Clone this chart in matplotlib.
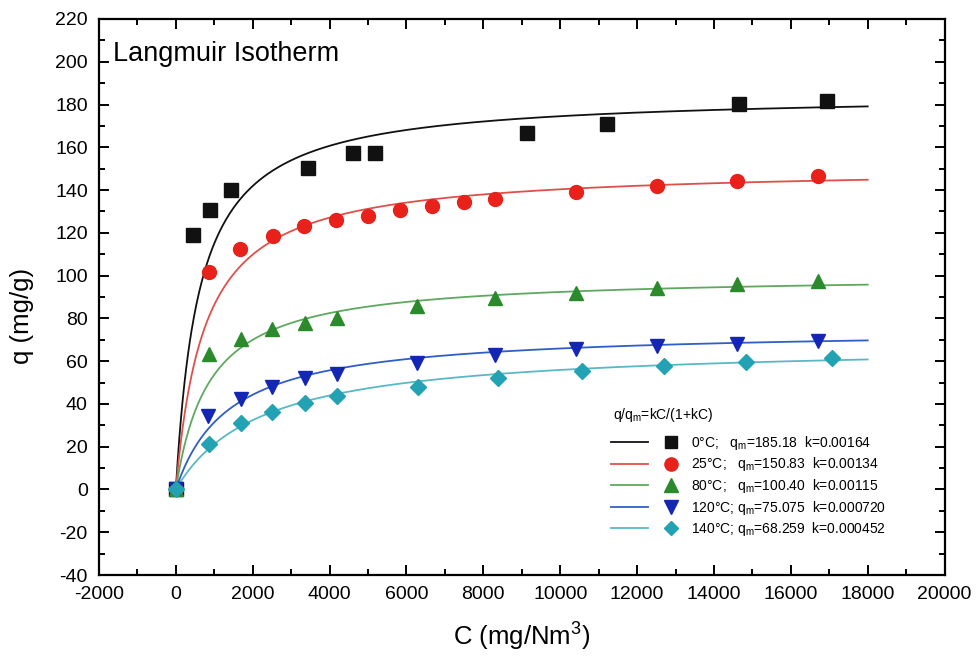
import numpy as np
import matplotlib.pyplot as plt
from matplotlib.lines import Line2D
from matplotlib.legend_handler import HandlerTuple
from matplotlib.ticker import MultipleLocator

plt.rcParams['font.family'] = ['Liberation Sans', 'DejaVu Sans']
plt.rcParams['mathtext.default'] = 'regular'
plt.rcParams['axes.unicode_minus'] = False

# Langmuir fit parameters, as printed in the legend
temps = ['0', '25', '80', '120', '140']
qm = [185.18, 150.83, 100.40, 75.075, 68.259]
k = [0.00164, 0.00134, 0.00115, 0.000720, 0.000452]
qm_txt = ['185.18', '150.83', '100.40', '75.075', '68.259']
k_txt = ['0.00164', '0.00134', '0.00115', '0.000720', '0.000452']

# measured points, C (mg/Nm3) and q (mg/g)
c_0 = [0, 437, 898, 1445, 3443, 4622, 5177, 9135, 11229, 14640, 16932]
q_0 = [0, 118.8, 130.8, 139.8, 150.5, 157.3, 157.3, 166.7, 171.1, 180.3, 181.7]
c_25 = [0, 867, 1680, 2521, 3346, 4172, 5005, 5838, 6654, 7487, 8294, 10404, 12513, 14596, 16706]
q_25 = [0, 101.6, 112.5, 118.3, 123.0, 125.9, 128.1, 130.8, 132.7, 134.3, 135.7, 139.0, 141.8, 144.1, 146.5]
c_80 = [0, 872, 1706, 2513, 3372, 4180, 6263, 8294, 10404, 12513, 14596, 16706]
q_80 = [0, 63.4, 70.5, 75.2, 78.0, 80.4, 86.0, 89.3, 92.1, 94.0, 95.9, 97.3]
c_120 = [0, 846, 1706, 2513, 3372, 4180, 6263, 8294, 10404, 12513, 14596, 16706]
q_120 = [0, 34.4, 42.4, 48.0, 52.2, 54.1, 59.3, 63.0, 65.9, 67.3, 68.2, 69.6]
c_140 = [0, 872, 1706, 2513, 3372, 4180, 6289, 8372, 10560, 12695, 14830, 17070]
q_140 = [0, 21.2, 31.2, 36.3, 40.6, 43.8, 48.0, 52.2, 55.5, 57.8, 59.7, 61.6]
c_max = 18000

cs = [c_0, c_25, c_80, c_120, c_140]
qs = [q_0, q_25, q_80, q_120, q_140]
markers = ['s', 'o', '^', 'v', 'D']
msizes = [9.5, 10, 10, 10, 8]
mcolors = ['#111111', '#e8211b', '#2b8a2b', '#1426b4', '#22a2b2']
lcolors = ['#111111', '#e0504a', '#5fa85f', '#2f5fc4', '#5ab8c6']

fig = plt.figure(figsize=(9.78, 6.68), dpi=100)
ax = fig.add_axes([0.1012, 0.1392, 0.8646, 0.8324])

cfit = np.linspace(0, c_max, 800)
handles = []
labels = []
for i in range(5):
    # fitted curve q = qm*kC/(1+kC)
    qfit = qm[i] * k[i] * cfit / (1 + k[i] * cfit)
    ax.plot(cfit, qfit, color=lcolors[i], lw=1.3, zorder=2)
for i in range(5):
    ax.plot(cs[i], qs[i], ls='none', marker=markers[i], ms=msizes[i],
            color=mcolors[i], mec=mcolors[i], zorder=3)
    ln = Line2D([], [], color=lcolors[i], lw=1.3)
    mk = Line2D([], [], ls='none', marker=markers[i], ms=msizes[i] * 0.95,
                color=mcolors[i], mec=mcolors[i])
    handles.append((ln, mk))
    sep = ';   ' if len(temps[i]) < 3 else '; '
    labels.append(temps[i] + '°C' + sep + 'q$_m$=' + qm_txt[i] + '  k=' + k_txt[i])

ax.set_xlim(-2000, 20000)
ax.set_ylim(-40, 220)
ax.xaxis.set_major_locator(MultipleLocator(2000))
ax.xaxis.set_minor_locator(MultipleLocator(1000))
ax.yaxis.set_major_locator(MultipleLocator(20))
ax.yaxis.set_minor_locator(MultipleLocator(10))
ax.tick_params(which='both', direction='in', top=True, right=True, width=1.4)
ax.tick_params(which='major', length=7, labelsize=14, pad=8)
ax.tick_params(which='minor', length=4)
for s in ax.spines.values():
    s.set_linewidth(1.6)

ax.set_xlabel('C (mg/Nm$^3$)', fontsize=18.5, labelpad=13)
ax.set_ylabel('q (mg/g)', fontsize=18.5)
ax.yaxis.set_label_coords(-0.077, 0.466)

ax.text(0.017, 0.937, 'Langmuir Isotherm', transform=ax.transAxes,
        fontsize=19.5, va='center', ha='left')

# legend title drawn separately to get the wider gap above the entries
ax.text(0.608, 0.288, 'q/q$_m$=kC/(1+kC)', transform=ax.transAxes,
        fontsize=10, va='center', ha='left')
leg = ax.legend(handles, labels, handler_map={tuple: HandlerTuple(ndivide=None, pad=0.32)},
                loc='upper left', bbox_to_anchor=(0.606, 0.254), frameon=False,
                fontsize=10, handlelength=5.6, handletextpad=0.15,
                labelspacing=0.26, borderpad=0, borderaxespad=0)

fig.savefig('out.png', dpi=100)
